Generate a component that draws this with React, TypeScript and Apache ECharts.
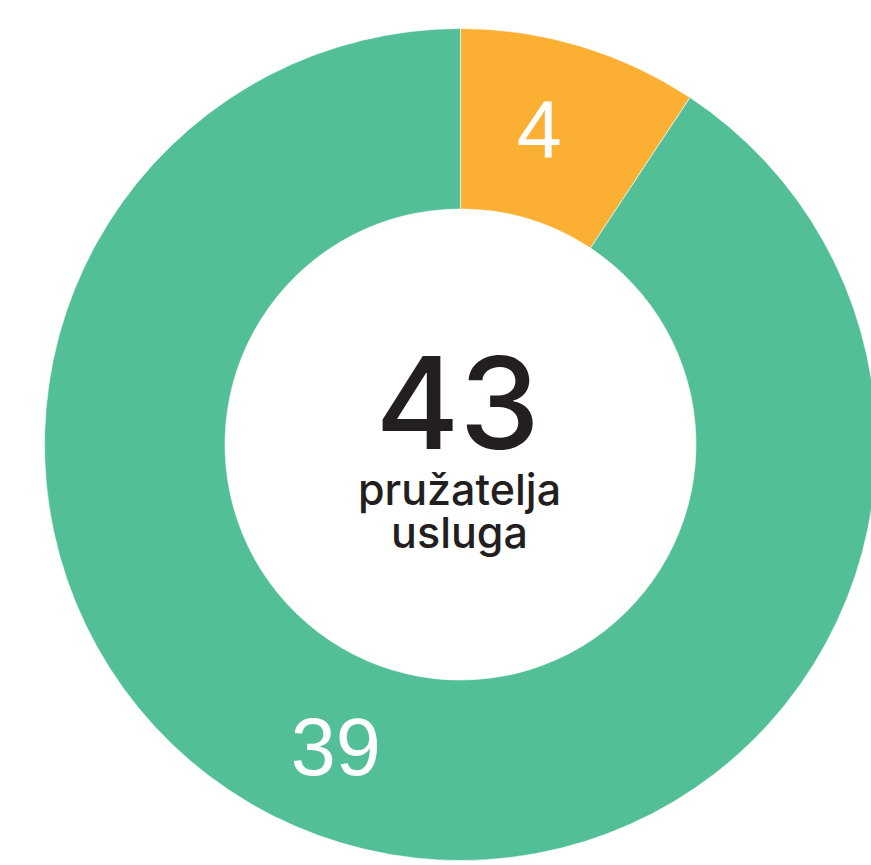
import React, { useEffect, useRef } from "react";
import * as echarts from "echarts";

const categories = ["A", "B"];
const values = [4, 39];
const colors = ["#FBB034", "#52BF97"];
const centerCaption = ["pružatelja", "usluga"];

export default function App() {
  const ref = useRef<HTMLDivElement>(null);
  useEffect(() => {
    if (!ref.current) return;
    const chart = echarts.init(ref.current, null, { renderer: "svg" });
    const total = values.reduce((a, b) => a + b, 0);
    const cx = 460.5;
    const cy = 444.5;
    chart.setOption({
      animation: false,
      backgroundColor: "#ffffff",
      graphic: [
        {
          type: "text",
          x: cx - 3,
          y: 402,
          style: {
            text: String(total),
            fontFamily: "Inter",
            fontWeight: 500,
            fontSize: 128,
            lineHeight: 94,
            fill: "#231f20",
            align: "center",
            verticalAlign: "middle",
          },
        },
        {
          type: "text",
          x: cx - 1,
          y: 510,
          style: {
            text: centerCaption.join("\n"),
            fontFamily: "Inter",
            fontWeight: 500,
            fontSize: 43,
            lineHeight: 43,
            fill: "#231f20",
            align: "center",
            verticalAlign: "middle",
          },
        },
      ],
      series: [
        {
          type: "pie",
          center: [cx, cy],
          radius: [235.5, 416],
          startAngle: 90,
          clockwise: true,
          silent: true,
          itemStyle: { borderColor: "#ffffff", borderWidth: 0.6 },
          label: {
            show: true,
            position: "inside",
            formatter: "{c}",
            color: "#ffffff",
            fontFamily: "Liberation Sans",
            fontSize: 81,
          },
          labelLine: { show: false },
          labelLayout: (p: any) =>
            p.dataIndex === 0 ? { dx: -16, dy: 0 } : { dx: -30, dy: -12 },
          data: categories.map((name, i) => ({
            name,
            value: values[i],
            itemStyle: { color: colors[i] },
          })),
        },
      ],
    });
    return () => chart.dispose();
  }, []);
  return (
    <div
      ref={ref}
      style={{ position: "fixed", left: 0, top: 0, width: 871, height: 865 }}
    />
  );
}
